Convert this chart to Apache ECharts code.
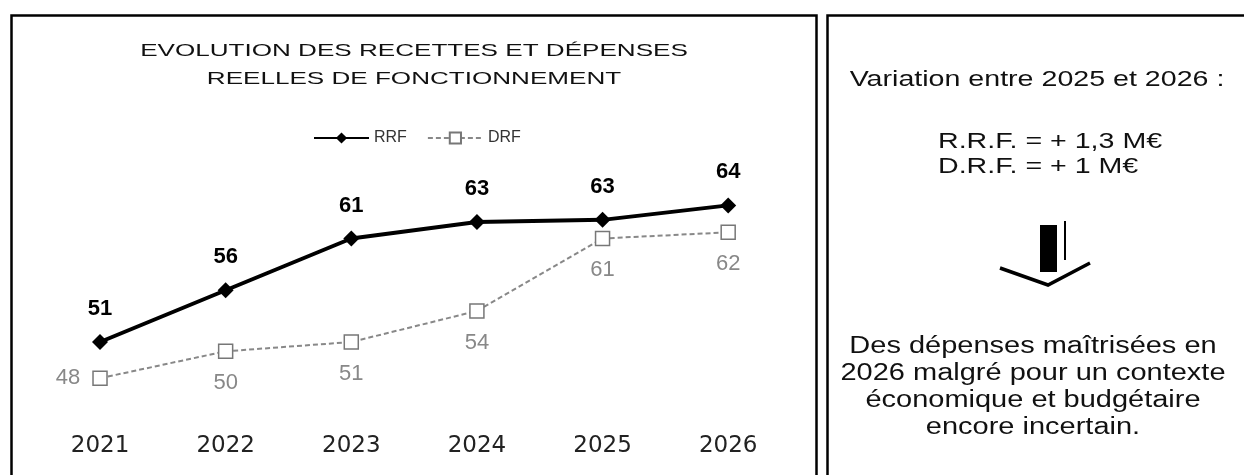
<!DOCTYPE html>
<html>
<head>
<meta charset="utf-8">
<script src="https://cdn.jsdelivr.net/npm/echarts@6/dist/echarts.min.js"></script>
<style>
html, body { margin: 0; padding: 0; background: #fff; }
#chart { width: 1244px; height: 475px; }
</style>
</head>
<body>
<div id="chart"></div>
<script>
// données (M€)
var years = ['2021', '2022', '2023', '2024', '2025', '2026'];
var rrf = [51, 56, 61, 62.6, 62.8, 64.2];
var drf = [47.5, 50.1, 51, 54, 61, 61.6];
var seriesNames = ['RRF', 'DRF'];
var titleLines = ['EVOLUTION DES RECETTES ET DÉPENSES', 'REELLES DE FONCTIONNEMENT'];
var noteHead = 'Variation entre 2025 et 2026 :';
var noteLines = ['R.R.F. = + 1,3 M€', 'D.R.F. = + 1 M€'];
var noteText = ['Des dépenses maîtrisées en', '2026 malgré pour un contexte', 'économique et budgétaire', 'encore incertain.'];

var font = 'Liberation Sans, Arial, sans-serif';

function roundLabel(p) {
	return Math.round(p.value);
}

// le premier point DRF a son étiquette à gauche
var drfData = drf.map(function(v, i) {
	if(i == 0) {
		return { value: v, label: { position: 'left', distance: 12 } };
	}
	return v;
});

var chart = echarts.init(document.getElementById('chart'));
var option = {
	backgroundColor: '#fff',
	animation: false,
	legend: {
		data: seriesNames,
		left: 308,
		top: 125,
		itemWidth: 55,
		itemHeight: 14,
		itemGap: 20,
		textStyle: { fontFamily: font, fontSize: 16, color: '#333' }
	},
	grid: {
		left: 37.2,
		right: 453,
		top: 145.35,
		bottom: 50.2
	},
	xAxis: {
		type: 'category',
		data: years,
		boundaryGap: true,
		axisLine: { show: false },
		axisTick: { show: false },
		axisLabel: {
			margin: 10,
			fontFamily: 'DejaVu Sans, sans-serif',
			fontSize: 23,
			color: '#222'
		}
	},
	yAxis: {
		type: 'value',
		min: 43,
		max: 70,
		show: false
	},
	series: [{
		name: seriesNames[0],
		type: 'line',
		data: rrf,
		symbol: 'diamond',
		symbolSize: 16,
		lineStyle: { color: '#000', width: 4 },
		itemStyle: { color: '#000' },
		label: {
			show: true,
			position: 'top',
			distance: 14,
			formatter: roundLabel,
			fontFamily: font,
			fontSize: 22,
			fontWeight: 'bold',
			color: '#000'
		},
		z: 3
	}, {
		name: seriesNames[1],
		type: 'line',
		data: drfData,
		symbol: 'rect',
		symbolSize: 14,
		lineStyle: { color: '#888', width: 2, type: [5, 3] },
		itemStyle: { color: '#fff', borderColor: '#777', borderWidth: 1.5 },
		label: {
			show: true,
			position: 'bottom',
			distance: 13,
			formatter: roundLabel,
			fontFamily: font,
			fontSize: 22,
			color: '#888'
		},
		z: 2
	}],
	graphic: [
		{ //cadre gauche
			type: 'rect', z: 0, silent: true,
			shape: { x: 11.5, y: 15.5, width: 805, height: 480 },
			style: { fill: null, stroke: '#000', lineWidth: 2.5 }
		},
		{ //cadre droit
			type: 'rect', z: 0, silent: true,
			shape: { x: 827.5, y: 15.5, width: 430, height: 480 },
			style: { fill: null, stroke: '#000', lineWidth: 2.5 }
		},
		{ //titre
			type: 'text', x: 414, y: 51, scaleX: 1.58, silent: true,
			style: {
				text: titleLines[0], align: 'center', verticalAlign: 'middle',
				font: '16.5px ' + font, fill: '#111'
			}
		},
		{
			type: 'text', x: 414, y: 79, scaleX: 1.58, silent: true,
			style: {
				text: titleLines[1], align: 'center', verticalAlign: 'middle',
				font: '16.5px ' + font, fill: '#111'
			}
		},
		{ //encadré
			type: 'text', x: 1037, y: 80, scaleX: 1.3, silent: true,
			style: {
				text: noteHead, align: 'center', verticalAlign: 'middle',
				font: '22px ' + font, fill: '#111'
			}
		},
		{
			type: 'text', x: 938, y: 154, scaleX: 1.3, silent: true,
			style: {
				text: noteLines.join('\n'), align: 'left', verticalAlign: 'middle',
				font: '22px ' + font, lineHeight: 25, fill: '#111'
			}
		},
		{ //flèche
			type: 'rect', silent: true,
			shape: { x: 1040, y: 225, width: 17, height: 47 },
			style: { fill: '#000' }
		},
		{
			type: 'line', silent: true,
			shape: { x1: 1065, y1: 221, x2: 1065, y2: 260 },
			style: { stroke: '#000', lineWidth: 2 }
		},
		{
			type: 'polyline', silent: true,
			shape: { points: [[1000, 268], [1048, 285], [1090, 263]] },
			style: { stroke: '#000', lineWidth: 3.5, fill: null }
		},
		{
			type: 'text', x: 1033, y: 387, scaleX: 1.26, silent: true,
			style: {
				text: noteText.join('\n'), align: 'center', verticalAlign: 'middle',
				font: '23px ' + font, lineHeight: 27, fill: '#111'
			}
		}
	]
};
chart.setOption(option);
</script>
</body>
</html>
